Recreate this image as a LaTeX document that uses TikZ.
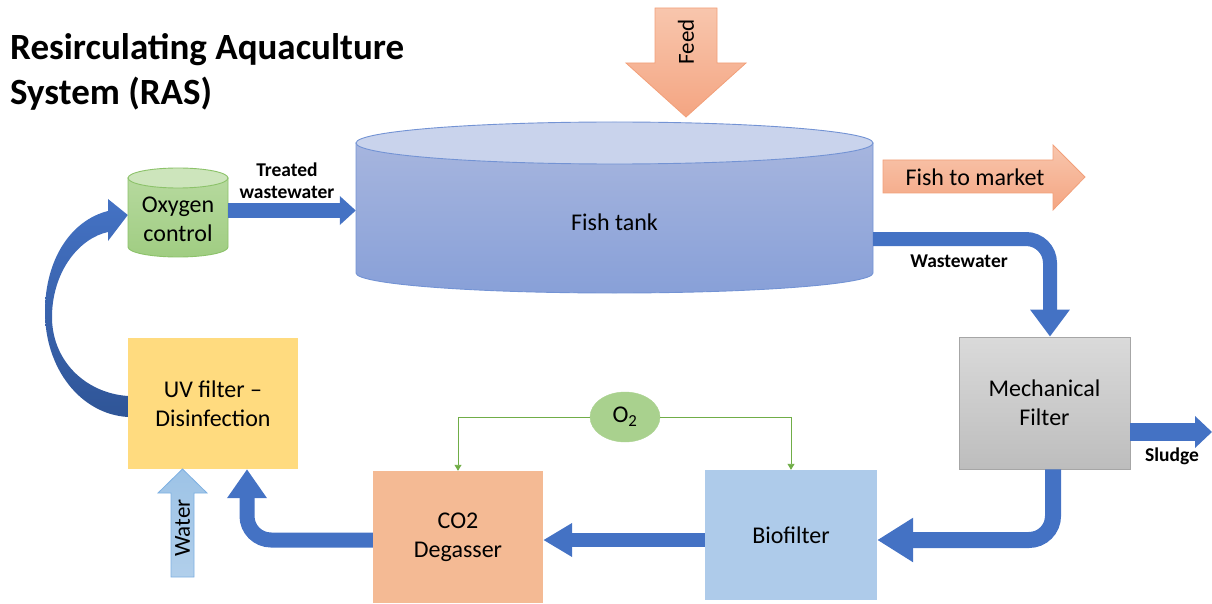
\documentclass[tikz,border=0pt]{standalone}
\usepackage{fontspec}
\setmainfont{Carlito}
\usetikzlibrary{arrows.meta,shapes.geometric}

\definecolor{pipeblue}{HTML}{4472C4}
\definecolor{pipedark}{HTML}{2F5597}
\definecolor{salmonL}{HTML}{F8C6AD}
\definecolor{salmonD}{HTML}{F4A582}
\definecolor{salmonEdge}{HTML}{F2A07A}
\definecolor{tankTop}{HTML}{C9D3EC}
\definecolor{tankBodyT}{HTML}{A6B5DE}
\definecolor{tankBodyB}{HTML}{88A0D8}
\definecolor{tankEdge}{HTML}{7393D4}
\definecolor{oxyTop}{HTML}{CDE5BC}
\definecolor{oxyT}{HTML}{B6D99E}
\definecolor{oxyB}{HTML}{A0CD82}
\definecolor{oxyEdge}{HTML}{8CC26A}
\definecolor{uvfill}{HTML}{FFDB7F}
\definecolor{co2fill}{HTML}{F4BA94}
\definecolor{biofill}{HTML}{AECBEA}
\definecolor{mechT}{HTML}{DADADA}
\definecolor{mechB}{HTML}{BDBDBD}
\definecolor{mechEdge}{HTML}{A6A6A6}
\definecolor{o2fill}{HTML}{A9D18E}
\definecolor{o2line}{HTML}{70AD47}
\definecolor{waterT}{HTML}{9DC3E6}
\definecolor{waterB}{HTML}{B1CFEB}
\definecolor{waterEdge}{HTML}{7EB0E2}

\begin{document}
\begin{tikzpicture}[x=1pt,y=-1pt,
  box/.style={rectangle, inner sep=0pt, align=center, font=\fontsize{24}{29}\selectfont},
  lbl/.style={font=\bfseries\fontsize{19.5}{22}\selectfont, align=center, inner sep=0pt},
  pipe/.style={draw=pipeblue, line width=15pt, rounded corners=24pt},
  blockarrow/.style={draw=salmonEdge, line width=0.8pt, top color=salmonL, bottom color=salmonD},
  o2link/.style={draw=o2line, line width=0.9pt, -{Triangle[width=7pt,length=6pt]}}
]
\useasboundingbox (0,0) rectangle (1212,604);

% title
\node[anchor=west, align=left, inner sep=0pt, font=\bfseries\fontsize{37}{45}\selectfont] (title) at (10,72)
  {Resirculating Aquaculture\\System (RAS)};

% feed arrow
\path[blockarrow] (655,8) -- (717,8) -- (717,63) -- (746,63) -- (686,117) -- (626,63) -- (655,63) -- cycle;
\node[rotate=90, font=\fontsize{23}{28}\selectfont] (feed) at (686,42) {Feed};

% fish tank cylinder
\path[draw=tankEdge, line width=0.9pt, top color=tankBodyT, bottom color=tankBodyB]
  (356,143) -- (356,273) arc[start angle=180, end angle=360, x radius=258.5pt, y radius=20pt] -- (873,143) -- cycle;
\path[draw=tankEdge, line width=0.9pt, fill=tankTop] (614.5,143) ellipse[x radius=258.5pt, y radius=21pt];
\node[box, minimum width=517pt, minimum height=140pt] (tank) at (614.5,222) {Fish tank};

% fish to market arrow
\path[blockarrow] (883,160) -- (1053,160) -- (1053,145) -- (1085,177) -- (1053,210) -- (1053,193) -- (883,193) -- cycle;
\node[font=\fontsize{24}{29}\selectfont] (market) at (975,177) {Fish to market};

% oxygen control cylinder
\path[draw=oxyEdge, line width=0.9pt, top color=oxyT, bottom color=oxyB]
  (128,178) -- (128,247) arc[start angle=180, end angle=360, x radius=50pt, y radius=10pt] -- (228,178) -- cycle;
\path[draw=oxyEdge, line width=0.9pt, fill=oxyTop] (178,178) ellipse[x radius=50pt, y radius=10pt];
\node[box, minimum width=100pt, minimum height=70pt] (oxy) at (178,219) {Oxygen\\control};

% process boxes
\node[box, fill=uvfill, minimum width=170pt, minimum height=131pt] (uv) at (213,403.5) {UV filter --\\Disinfection};
\node[box, fill=co2fill, minimum width=170pt, minimum height=132pt] (co2) at (458,537) {CO2\\Degasser};
\node[box, fill=biofill, minimum width=172pt, minimum height=130pt] (bio) at (791,535) {Biofilter};
\node[box, draw=mechEdge, line width=0.8pt, top color=mechT, bottom color=mechB,
  minimum width=171pt, minimum height=132pt] (mech) at (1044.5,403) {Mechanical\\Filter};
\node[ellipse, draw=o2fill, fill=o2fill, minimum width=70pt, minimum height=50pt, inner sep=0pt,
  font=\fontsize{24}{29}\selectfont] (o2) at (625,417) {O\textsubscript{2}};

% water inlet arrow
\path[draw=waterEdge, line width=0.8pt, top color=waterT, bottom color=waterB]
  (171,577) -- (171,493) -- (158,493) -- (182.5,469) -- (207,493) -- (194,493) -- (194,577) -- cycle;
\node[rotate=90, font=\fontsize{23}{28}\selectfont] (water) at (182.5,528) {Water};

% helper rows and columns for the pipes
\coordinate (rowTreated) at (0,210.5);
\coordinate (rowWaste) at (0,239);
\coordinate (colWaste) at (1050,0);
\coordinate (rowSludge) at (0,432);
\coordinate (colMech) at (1053,0);
\coordinate (rowBottom) at (0,540);
\coordinate (colUV) at (247,0);

% blue water pipes
\draw[pipe, -{Triangle[width=28pt,length=16pt]}] (oxy.east |- rowTreated) -- (tank.west |- rowTreated);
\draw[pipe, line width=14pt, -{Triangle[width=38pt,length=27pt]}]
  (tank.east |- rowWaste) -- (colWaste |- rowWaste) -- (colWaste |- mech.north);
\draw[pipe, line width=18pt, -{Triangle[width=31pt,length=17pt]}] (mech.east |- rowSludge) -- (1212,432);
\draw[pipe, line width=16pt, -{Triangle[width=42pt,length=36pt]}]
  (colMech |- mech.south) -- (colMech |- rowBottom) -- (bio.east |- rowBottom);
\draw[pipe, line width=14pt, -{Triangle[width=32pt,length=29pt]}] (bio.west |- rowBottom) -- (co2.east |- rowBottom);
\draw[pipe, -{Triangle[width=38pt,length=29pt]}]
  (co2.west |- rowBottom) -- (colUV |- rowBottom) -- (colUV |- uv.south);

\node[lbl] (treatedlbl) at (287,181) {Treated\\wastewater};
\node[lbl] (wastelbl) at (959,261) {Wastewater};
\node[lbl] (sludgelbl) at (1172,456) {Sludge};

% curved return arrow from the UV filter to the oxygen control
\path[top color=pipeblue, bottom color=pipedark]
  (uv.west |- 0,417) .. controls (80,414) and (45,368) .. (45,312)
  .. controls (45,258) and (72,220) .. (108,211) -- (108,199) -- (oxy.west |- 0,215)
  -- (108,241) -- (108,232) .. controls (80,238) and (53,270) .. (52,315)
  .. controls (51,360) and (85,393) .. (uv.west |- 0,396) -- cycle;

% oxygen supply lines
\draw[o2link] (o2.west) -| (co2.north);
\draw[o2link] (o2.east) -| (bio.north);
\end{tikzpicture}
\end{document}
